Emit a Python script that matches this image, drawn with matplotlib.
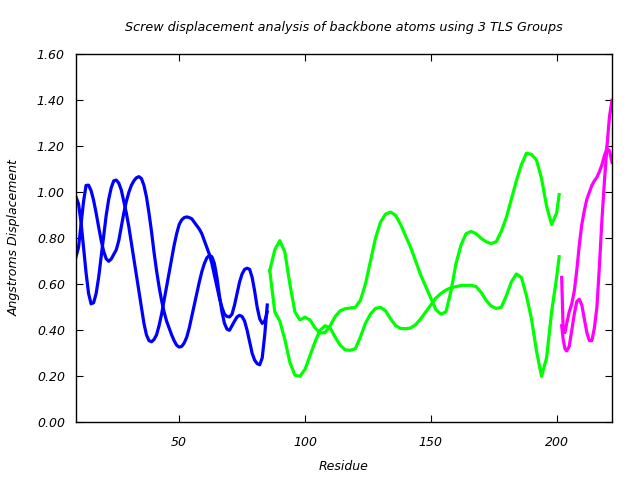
import matplotlib
matplotlib.use("Agg")
import matplotlib.pyplot as plt

# ---- data ----
blue_x = list(range(9, 86))
blue_a = [0.72, 0.76, 0.86, 0.96, 1.03, 1.031, 1.007, 0.965, 0.91, 0.849, 0.791, 0.743, 0.711, 0.70,
          0.71, 0.73, 0.75, 0.79, 0.85, 0.91, 0.96, 1.00, 1.03, 1.05, 1.063, 1.068, 1.06, 1.03, 0.98,
          0.91, 0.83, 0.74, 0.66, 0.59, 0.53, 0.48, 0.44, 0.41, 0.38, 0.355, 0.335, 0.327, 0.33,
          0.345, 0.37, 0.41, 0.46, 0.51, 0.56, 0.61, 0.655, 0.69, 0.715, 0.726, 0.72, 0.69, 0.63,
          0.55, 0.48, 0.43, 0.405, 0.40, 0.42, 0.44, 0.458, 0.465, 0.46, 0.44, 0.40, 0.35, 0.30,
          0.27, 0.255, 0.25, 0.28, 0.38, 0.51]
blue_b = [0.98, 0.95, 0.87, 0.76, 0.65, 0.56, 0.515, 0.52, 0.56, 0.63, 0.72, 0.81, 0.90, 0.97,
          1.02, 1.05, 1.053, 1.04, 1.01, 0.96, 0.91, 0.85, 0.78, 0.71, 0.64, 0.57, 0.50, 0.43,
          0.38, 0.355, 0.35, 0.36, 0.38, 0.42, 0.47, 0.53, 0.59, 0.65, 0.71, 0.77, 0.82, 0.86,
          0.88, 0.89, 0.893, 0.89, 0.885, 0.87, 0.855, 0.84, 0.82, 0.79, 0.76, 0.73, 0.69, 0.64,
          0.59, 0.54, 0.50, 0.47, 0.46, 0.458, 0.47, 0.51, 0.56, 0.61, 0.645, 0.665, 0.67, 0.665,
          0.63, 0.57, 0.50, 0.45, 0.43, 0.44, 0.48]

green_x = list(range(86, 201, 2)) + [201]
green_c = [0.66, 0.75, 0.79, 0.74, 0.60, 0.48, 0.445, 0.457, 0.445, 0.41, 0.388, 0.39, 0.42,
           0.46, 0.485, 0.494, 0.497, 0.50, 0.53, 0.60, 0.70, 0.80, 0.87, 0.905, 0.914, 0.90,
           0.86, 0.81, 0.76, 0.70, 0.64, 0.59, 0.54, 0.49, 0.47, 0.48, 0.57, 0.69, 0.77, 0.82,
           0.83, 0.82, 0.80, 0.785, 0.777, 0.785, 0.83, 0.89, 0.97, 1.05, 1.12, 1.17, 1.165,
           1.14, 1.06, 0.94, 0.86, 0.91, 0.99]
green_d = [0.66, 0.48, 0.44, 0.36, 0.26, 0.205, 0.20, 0.23, 0.29, 0.35, 0.40, 0.42, 0.41,
           0.37, 0.335, 0.315, 0.313, 0.32, 0.37, 0.43, 0.47, 0.495, 0.50, 0.485, 0.45, 0.42,
           0.408, 0.407, 0.41, 0.425, 0.45, 0.48, 0.51, 0.54, 0.56, 0.575, 0.585, 0.59, 0.595,
           0.595, 0.596, 0.59, 0.565, 0.53, 0.505, 0.495, 0.50, 0.55, 0.61, 0.645, 0.63, 0.55,
           0.45, 0.31, 0.20, 0.28, 0.48, 0.63, 0.72]

mag_x = [202, 202.6, 203.3] + list(range(204, 223))
mag_e = [0.42, 0.36, 0.32, 0.31, 0.33, 0.40, 0.47, 0.525, 0.535, 0.51, 0.45, 0.39, 0.355,
         0.355, 0.41, 0.50, 0.68, 0.88, 1.05, 1.20, 1.33, 1.40]
mag_f = [0.63, 0.40, 0.39, 0.43, 0.48, 0.515, 0.57, 0.66, 0.77, 0.86, 0.92, 0.97, 1.00,
         1.03, 1.05, 1.065, 1.09, 1.12, 1.16, 1.19, 1.18, 1.13]

x_ticks = [50, 100, 150, 200]
y_ticks = [0.0, 0.2, 0.4, 0.6, 0.8, 1.0, 1.2, 1.4, 1.6]

title = "Screw displacement analysis of backbone atoms using 3 TLS Groups"
xlabel = "Residue"
ylabel = "Angstroms Displacement"

# ---- plot ----
plt.rcParams['font.family'] = ['DejaVu Sans']
plt.rcParams['font.style'] = 'italic'

fig = plt.figure(figsize=(6.4, 4.8), dpi=100)
ax = fig.add_axes([76/640, 1 - 422.3/480, (612-76)/640, (422.3-54.3)/480])

lw = 2.3
ax.plot(blue_x, blue_a, color='#0000ff', lw=lw, solid_joinstyle='round')
ax.plot(blue_x, blue_b, color='#0000ff', lw=lw, solid_joinstyle='round')
ax.plot(green_x, green_c, color='#00ff00', lw=lw, solid_joinstyle='round')
ax.plot(green_x, green_d, color='#00ff00', lw=lw, solid_joinstyle='round')
ax.plot(mag_x, mag_e, color='#ff00ff', lw=lw, solid_joinstyle='round')
ax.plot(mag_x, mag_f, color='#ff00ff', lw=lw, solid_joinstyle='round')

ax.set_xlim(9, 222)
ax.set_ylim(0, 1.6)
ax.set_xticks(x_ticks)
ax.set_xticklabels([str(v) for v in x_ticks])
ax.set_yticks(y_ticks)
ax.set_yticklabels(["%.2f" % v for v in y_ticks])
ax.tick_params(direction='in', length=5, width=0.8, top=True, right=True,
               labelsize=9, colors='black')
ax.tick_params(axis='x', pad=10)
ax.tick_params(axis='y', pad=8)
for s in ax.spines.values():
    s.set_linewidth(1.0)

fig.text(344/640, 1 - 27/480, title, ha='center', va='center', fontsize=9.2, style='italic')
fig.text(344/640, 1 - 467/480, xlabel, ha='center', va='center', fontsize=9, style='italic')
fig.text(14/640, 1 - 238/480, ylabel, ha='center', va='center', rotation=90, fontsize=9, style='italic')

fig.savefig("out.png", dpi=100)
